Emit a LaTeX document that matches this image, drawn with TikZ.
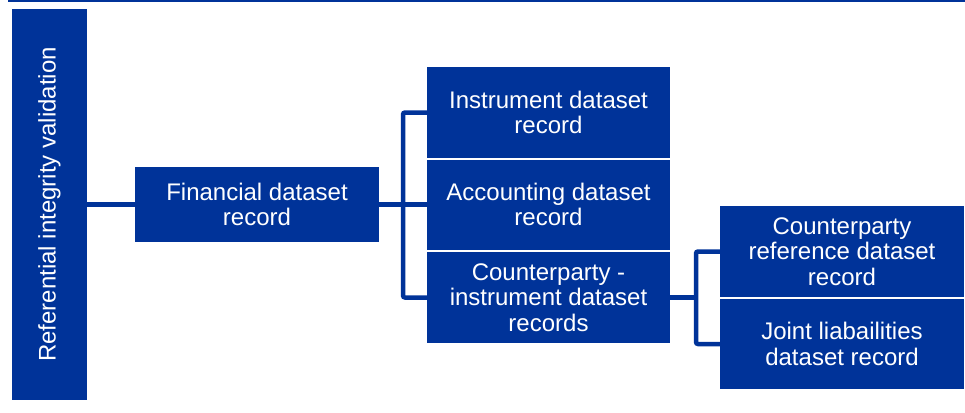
\documentclass[tikz,border=0pt]{standalone}
\usepackage{fontspec}
\setmainfont{Liberation Sans}
\definecolor{ecbblue}{RGB}{0,51,153}

\begin{document}
\begin{tikzpicture}[x=1pt, y=-1pt]
    % Define styles
    \tikzset{
        record/.style={fill=ecbblue, text=white, minimum width=243pt, minimum height=90pt, align=center, inner sep=0pt, font=\fontsize{24}{25.5}\selectfont},
        sidebar/.style={fill=ecbblue, text=white, minimum width=75pt, minimum height=391pt, inner sep=0pt, font=\fontsize{24}{25.5}\selectfont},
        link/.style={draw=ecbblue, line width=4.5pt, rounded corners=2pt}
    }
    \useasboundingbox (0,0) rectangle (965,412);

    % Top rule
    \draw[ecbblue, line width=2.5pt] (8,1) -- (965,1);

    % Validation bar
    \node[sidebar] (riv) at (49.5,204.5) {\rotatebox{90}{Referential integrity validation}};

    % Financial record
    \node[record, minimum width=244pt, minimum height=75pt] (fin) at (257,204.5) {Financial dataset\\record};

    % Records linked to financial record
    \node[record, minimum height=91pt] (ins) at (548.5,112.5) {Instrument dataset\\record};
    \node[record] (acc) at (548.5,204.5) {Accounting dataset\\record};
    \node[record, minimum height=91pt] (cpi) at (548.5,297.5) {Counterparty -\\instrument dataset\\records};

    % Records linked to counterparty-instrument record
    \node[record, minimum width=244pt, minimum height=91pt] (cpr) at (842,251.5) {Counterparty\\reference dataset\\record};
    \node[record, minimum width=244pt] (jnt) at (842,344) {Joint liabailities\\dataset record};

    % Connectors
    \coordinate (fork1) at (403,204.5);
    \coordinate (fork2) at (696,297.5);
    \draw[link] (riv.east |- fin.west) -- (fin.west);
    \draw[link] (fin.east) -- (acc.west);
    \draw[link] (ins.west) -| (fork1) |- (cpi.west);
    \draw[link] (cpi.east) -- (fork2);
    \draw[link] (cpr.west) -| (fork2) |- (jnt.west);

\end{tikzpicture}
\end{document}
